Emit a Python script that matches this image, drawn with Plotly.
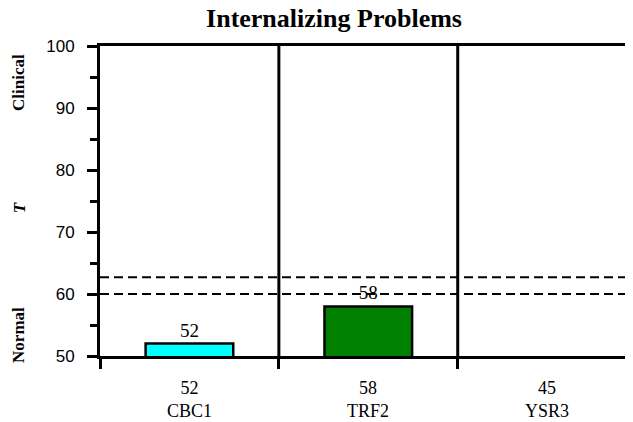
import plotly.graph_objects as go

categories = ["CBC1", "TRF2", "YSR3"]
values = [52, 58, 45]
bar_colors = ["#00FFFF", "#008000", "#FF0000"]
thresholds = [60, 62.7]
y_min, y_max = 50, 100
y_tick_vals = [50, 60, 70, 80, 90, 100]
title_text = "Internalizing Problems"
side_labels = [("Clinical", 94.2), ("T", 74.0), ("Normal", 53.4)]

xpos = [i + 0.5 for i in range(len(categories))]
bar_text = [str(v) if v >= y_min else "" for v in values]

fig = go.Figure()
fig.add_trace(go.Bar(
    x=xpos, y=values, width=0.49,
    marker=dict(color=bar_colors, line=dict(color="black", width=2.5)),
    text=bar_text, textposition="outside",
    textfont=dict(family="Liberation Serif", size=19, color="black"),
    cliponaxis=True, showlegend=False, hoverinfo="skip",
))

for t in thresholds:
    fig.add_shape(type="line", xref="paper", x0=0, x1=1, yref="y", y0=t, y1=t,
                  line=dict(color="black", width=2, dash="9px,5px"))
for b in range(1, len(categories)):
    fig.add_shape(type="line", xref="x", x0=b, x1=b, yref="paper", y0=0, y1=1,
                  line=dict(color="black", width=3))

for xp, c, v in zip(xpos, categories, values):
    fig.add_annotation(x=xp, xref="x", y=-0.066, yref="paper", yanchor="top",
                       text=f"{v}<br>{c}", showarrow=False,
                       font=dict(family="Liberation Serif", size=18, color="black"))

for txt, yv in side_labels:
    label = f"<i>{txt}</i>" if txt == "T" else txt
    fig.add_annotation(x=-0.152, xref="paper", xanchor="center", y=yv, yref="y",
                       text=f"<b>{label}</b>", textangle=-90, showarrow=False,
                       font=dict(family="Liberation Serif", size=17, color="black"))

fig.update_layout(
    width=625, height=414,
    margin=dict(l=92, r=0, t=38, b=66),
    paper_bgcolor="white", plot_bgcolor="white",
    title=dict(text=f"<b>{title_text}</b>", x=0.5216, xanchor="center", y=0.976, yanchor="middle",
               font=dict(family="Liberation Serif", size=26, color="black")),
    xaxis=dict(range=[0, 2.98], tickvals=[0, 1, 2, 3], ticktext=["", "", "", ""],
               ticks="outside", ticklen=10, tickwidth=3, tickcolor="black",
               showline=True, linewidth=3, linecolor="black", mirror=True,
               showgrid=False, zeroline=False),
    yaxis=dict(range=[y_min, y_max], tickvals=y_tick_vals, ticks="outside", ticklen=10,
               tickwidth=3, tickcolor="black", showline=True, linewidth=3, linecolor="black",
               showgrid=False, zeroline=False, ticklabelstandoff=9,
               tickfont=dict(family="Liberation Sans", size=17, color="black"),
               minor=dict(dtick=5, ticks="outside", ticklen=7, tickwidth=3, tickcolor="black", showgrid=False)),
)

fig.write_html("out.html")
